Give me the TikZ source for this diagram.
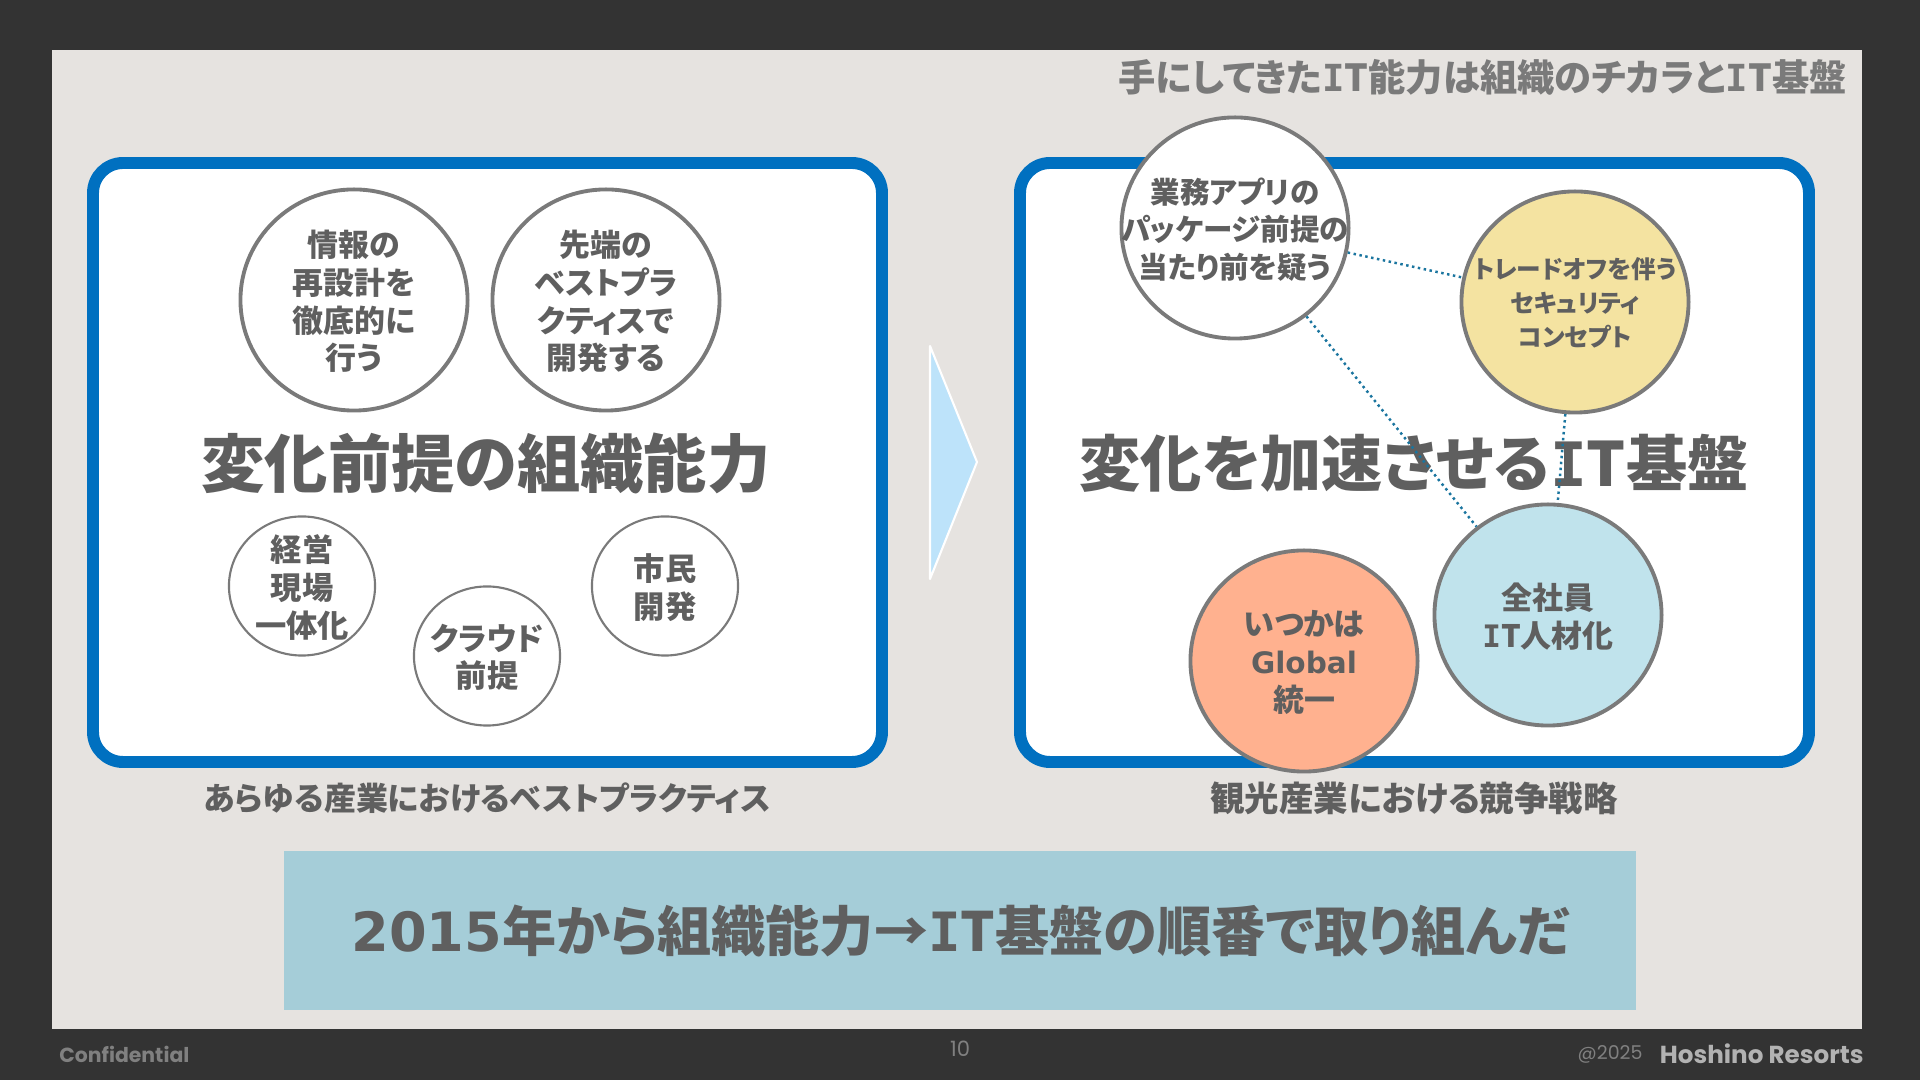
\documentclass[tikz,border=0pt]{standalone}
\usepackage{fontspec}
\usetikzlibrary{shapes.geometric}
\setmainfont[RawFeature=+palt]{Noto Sans CJK JP}
\newfontfamily\footfont{Poppins}
\newfontfamily\monofont{DejaVu Sans Mono}
\newfontfamily\widefont{DejaVu Sans}
\newcommand{\ITmark}{{\monofont I}T}
\definecolor{slidebg}{HTML}{E6E3E0}
\definecolor{darkbg}{HTML}{333333}
\definecolor{framblue}{HTML}{0070C0}
\definecolor{linkblue}{HTML}{1A759F}
\definecolor{txtgray}{HTML}{5F5F5F}
\definecolor{ringgray}{HTML}{7A7A7A}
\definecolor{arrowblue}{HTML}{BDE3FA}
\definecolor{ringyellow}{HTML}{F4E3A1}
\definecolor{ringcyan}{HTML}{C0E3EC}
\definecolor{ringorange}{HTML}{FFB18F}
\definecolor{bannerblue}{HTML}{A5CDD8}
\tikzset{
  panel/.style={draw=framblue, line width=3.4pt, fill=white, rounded corners=0.3cm},
  bigring/.style={ellipse, draw=ringgray, line width=1.1pt, minimum width=2.27cm, minimum height=2.21cm, inner sep=-0.6cm, text depth=0pt, align=center, text=txtgray, font=\fontsize{8.8}{10.7}\selectfont\bfseries},
  smallring/.style={ellipse, draw=ringgray, line width=0.6pt, fill=white, minimum width=1.46cm, minimum height=1.39cm, inner sep=-0.3cm, text depth=0pt, align=center, text=txtgray, font=\fontsize{8.9}{10.7}\selectfont\bfseries},
  bigtitle/.style={text=txtgray, font=\fontsize{18}{20}\selectfont\bfseries},
  caption/.style={text=txtgray, font=\fontsize{9.1}{12}\selectfont\bfseries},
  dotlink/.style={draw=linkblue, line width=0.7pt, densely dotted},
  foottxt/.style={text=gray, font=\footfont\fontsize{6}{7}\selectfont}
}

\begin{document}
\begin{tikzpicture}[x=0.01cm, y=-0.01cm]
	\useasboundingbox (0,0) rectangle (1920,1080);

	% 1. Background
	\fill[darkbg] (0,0) rectangle (1920,1080);
	\fill[slidebg] (52,50) rectangle (1862,1029);

	% 2. Heading
	\node[anchor=east, text=ringgray, font=\fontsize{10.6}{13}\selectfont\bfseries] (heading) at (1859,77) {手にしてきた\ITmark 能力は組織のチカラと\ITmark 基盤};

	% 3. Panels
	\draw[panel] (93,163) rectangle (882,762);
	\draw[panel] (1020,163) rectangle (1809,762);

	% 4. Triangle between the panels
	\draw[white, line width=0.6pt, line join=round, fill=arrowblue] (930,346) -- (977,462) -- (930,579) -- cycle;

	% 5. Left circles
	\node[bigring] (redesign) at (354,300) {情報の\\再設計を\\徹底的に\\行う};
	\node[bigring] (bestprac) at (606,300) {先端の\\ベストプラ\\クティスで\\開発する};
	\node[smallring] (mgmt) at (302,586) {経営\\現場\\一体化};
	\node[smallring] (cloud) at (487,656) {クラウド\\前提};
	\node[smallring] (citizen) at (665,586) {市民\\開発};

	% 6. Panel titles
	\node[bigtitle] (lefttitle) at (486,463) {変化前提の組織能力};
	\node[bigtitle, font=\fontsize{17.4}{20}\selectfont\bfseries] (righttitle) at (1414,463) {変化を加速させる\ITmark 基盤};

	% 7. Right circles and their links
	\node[bigring, fill=white, font=\fontsize{8.4}{10.7}\selectfont\bfseries] (app) at (1235,228) {業務アプリの\\パッケージ前提の\\当たり前を疑う};
	\node[bigring, fill=ringyellow, font=\fontsize{7}{9.7}\selectfont\bfseries] (trade) at (1575,302) {トレードオフを伴う\\セキュリティ\\コンセプト};
	\node[bigring, fill=ringcyan] (staff) at (1548,615) {全社員\\\ITmark 人材化};
	\node[bigring, fill=ringorange] (global) at (1304,661) {いつかは\\{\widefont\fontsize{8.4}{10.7}\selectfont Global}\\統一};
	\draw[dotlink] (app) -- (trade);
	\draw[dotlink] (app) -- (staff);
	\draw[dotlink] (trade) -- (staff);

	% 8. Captions
	\node[caption] (leftcap) at (487,798) {あらゆる産業におけるベストプラクティス};
	\node[caption, font=\fontsize{9.8}{12}\selectfont\bfseries] (rightcap) at (1414,798) {観光産業における競争戦略};

	% 9. Banner
	\node[fill=bannerblue, minimum width=13.52cm, minimum height=1.59cm, text=txtgray, font=\fontsize{15.4}{18}\selectfont\bfseries] (banner) at (960,930.5) {{\widefont 2015}年から組織能力→\ITmark 基盤の順番で取り組んだ};

	% 10. Footer
	\node[foottxt, anchor=west, font=\footfont\bfseries\fontsize{5.8}{7}\selectfont] (conf) at (47,1054) {Confidential};
	\node[foottxt] (pageno) at (960,1049) {10};
	\node[foottxt, anchor=east, font=\footfont\fontsize{5.4}{7}\selectfont] (year) at (1655,1054) {@2025};
	\node[foottxt, anchor=east, text=black!30, font=\footfont\bfseries\fontsize{7}{8}\selectfont] (brand) at (1876,1054) {Hoshino Resorts};
\end{tikzpicture}
\end{document}
